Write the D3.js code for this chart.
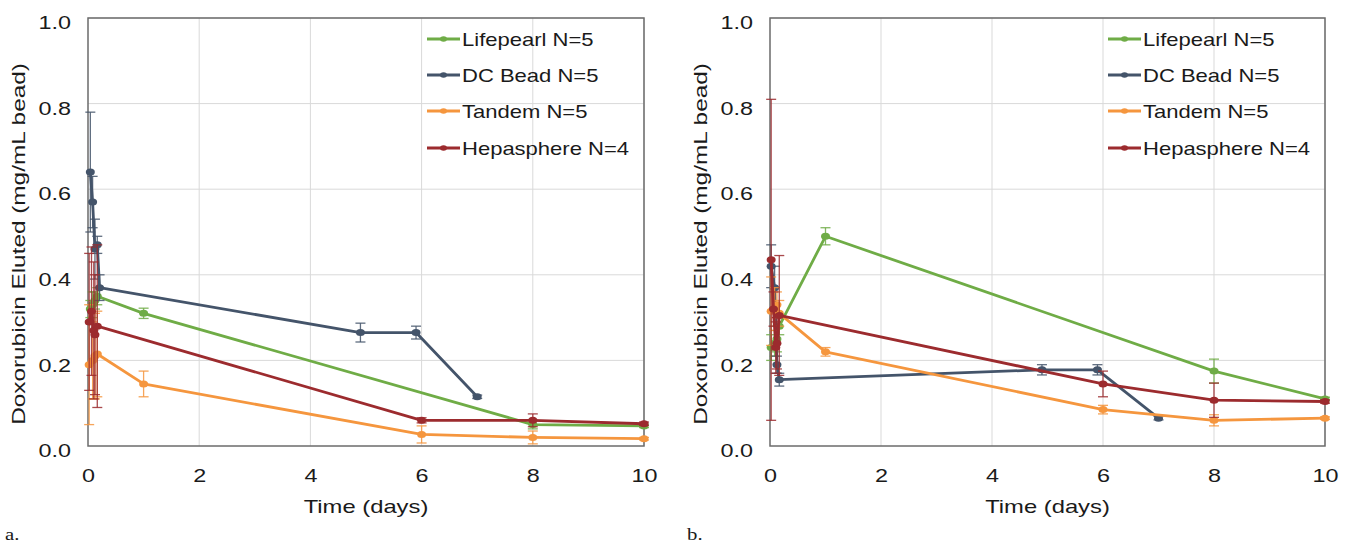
<!DOCTYPE html>
<html><head><meta charset="utf-8">
<script src="https://cdn.jsdelivr.net/npm/d3@7"></script>
<style>
html,body{margin:0;padding:0;background:#fff;}
svg text{font-family:"Liberation Sans",Arial,sans-serif;fill:#1a1a1a;}
</style></head>
<body><svg id="chart" width="1349" height="545"></svg>
<script>
// ---------- data ----------
const seriesNames = ["Lifepearl N=5", "DC Bead N=5", "Tandem N=5", "Hepasphere N=4"];
const seriesColors = ["#6fac46", "#44546a", "#f5963e", "#9c2b2e"];
const xTicks = [0, 2, 4, 6, 8, 10];
const yTicks = [0.0, 0.2, 0.4, 0.6, 0.8, 1.0];
const panelLabels = ["a.", "b."];

// Panel a
const aLifepearlT = [0.042, 0.083, 0.125, 0.167, 1, 8, 10];
const aLifepearlV = [0.32, 0.33, 0.34, 0.35, 0.31, 0.05, 0.047];
const aLifepearlE = [0.02, 0.03, 0.02, 0.02, 0.012, 0.01, 0.004];
const aDCBeadT = [0.042, 0.083, 0.125, 0.167, 0.208, 4.9, 5.9, 7];
const aDCBeadV = [0.64, 0.57, 0.46, 0.47, 0.37, 0.265, 0.265, 0.115];
const aDCBeadE = [0.14, 0.06, 0.07, 0.02, 0.03, 0.022, 0.015, 0.004];
const aTandemT = [0.021, 0.083, 0.125, 0.167, 1, 6, 8, 10];
const aTandemV = [0.19, 0.2, 0.21, 0.215, 0.145, 0.027, 0.02, 0.017];
const aTandemE = [0.14, 0.09, 0.1, 0.1, 0.03, 0.02, 0.015, 0.003];
const aHepaT = [0.021, 0.063, 0.104, 0.125, 0.167, 6, 8, 10];
const aHepaV = [0.29, 0.315, 0.27, 0.26, 0.28, 0.06, 0.06, 0.052];
const aHepaE = [0.16, 0.15, 0.16, 0.14, 0.19, 0.006, 0.015, 0.004];

// Panel b
const bLifepearlT = [0.021, 0.083, 0.125, 0.167, 1, 8, 10];
const bLifepearlV = [0.23, 0.24, 0.25, 0.28, 0.49, 0.175, 0.11];
const bLifepearlE = [0.03, 0.03, 0.03, 0.02, 0.02, 0.028, 0.004];
const bDCBeadT = [0.021, 0.083, 0.125, 0.167, 4.9, 5.9, 7];
const bDCBeadV = [0.42, 0.37, 0.19, 0.155, 0.178, 0.178, 0.065];
const bDCBeadE = [0.05, 0.05, 0.02, 0.015, 0.012, 0.012, 0.004];
const bTandemT = [0.021, 0.083, 0.125, 0.167, 1, 6, 8, 10];
const bTandemV = [0.315, 0.32, 0.33, 0.31, 0.22, 0.085, 0.06, 0.065];
const bTandemE = [0.08, 0.05, 0.03, 0.03, 0.01, 0.01, 0.013, 0.003];
const bHepaT = [0.021, 0.063, 0.104, 0.125, 0.167, 6, 8, 10];
const bHepaV = [0.435, 0.32, 0.23, 0.24, 0.305, 0.145, 0.107, 0.104];
const bHepaE = [0.375, 0.04, 0.06, 0.06, 0.14, 0.03, 0.04, 0.004];

// ---------- build ----------
const zip = (t, v, e) => t.map((d, i) => ({t: d, v: v[i], e: e[i]}));
const panels = [
  {left: 88, right: 644, label: panelLabels[0], series: [
    zip(aLifepearlT, aLifepearlV, aLifepearlE), zip(aDCBeadT, aDCBeadV, aDCBeadE),
    zip(aTandemT, aTandemV, aTandemE), zip(aHepaT, aHepaV, aHepaE)]},
  {left: 770, right: 1325, label: panelLabels[1], series: [
    zip(bLifepearlT, bLifepearlV, bLifepearlE), zip(bDCBeadT, bDCBeadV, bDCBeadE),
    zip(bTandemT, bTandemV, bTandemE), zip(bHepaT, bHepaV, bHepaE)]}
];
const TOP = 18, BOTTOM = 446;
const svg = d3.select("#chart");

function stretchText(g, x, y, str, anchor, rotate, fs, sx) {
  return g.append("text")
    .attr("transform", `translate(${x},${y})${rotate ? " rotate(-90)" : ""} scale(${sx},1)`)
    .attr("text-anchor", anchor).style("font-size", fs + "px").text(str);
}

panels.forEach((p, pi) => {
  const x = d3.scaleLinear().domain([0, 10]).range([p.left, p.right]);
  const y = d3.scaleLinear().domain([0, 1]).range([BOTTOM, TOP]);
  const g = svg.append("g");

  // grid
  g.append("g").selectAll("line").data(yTicks.slice(1)).join("line")
    .attr("x1", p.left).attr("x2", p.right).attr("y1", d => y(d)).attr("y2", d => y(d))
    .attr("stroke", "#d9d9d9").attr("stroke-width", 1);
  g.append("g").selectAll("line").data(xTicks.slice(1)).join("line")
    .attr("y1", TOP).attr("y2", BOTTOM).attr("x1", d => x(d)).attr("x2", d => x(d))
    .attr("stroke", "#d9d9d9").attr("stroke-width", 1);

  // axes
  const ax = g.append("g").attr("transform", `translate(0,${BOTTOM})`)
    .call(d3.axisBottom(x).tickValues(xTicks).tickSize(0).tickFormat(d3.format("d")));
  ax.select(".domain").remove();
  ax.selectAll("text").attr("y", 0).attr("dy", 0)
    .attr("transform", `translate(0,36) scale(1.3,1)`).style("font-size", "18px")
    .attr("fill", "#1a1a1a").style("font-family", "Liberation Sans, Arial, sans-serif");
  const ay = g.append("g").attr("transform", `translate(${p.left},0)`)
    .call(d3.axisLeft(y).tickValues(yTicks).tickSize(0).tickFormat(d3.format(".1f")));
  ay.select(".domain").remove();
  ay.selectAll("text").attr("x", 0)
    .attr("transform", `translate(-17,5) scale(1.3,1)`).style("font-size", "18px")
    .attr("fill", "#1a1a1a").style("font-family", "Liberation Sans, Arial, sans-serif");

  // box
  g.append("rect").attr("x", p.left).attr("y", TOP).attr("width", p.right - p.left)
    .attr("height", BOTTOM - TOP).attr("fill", "none").attr("stroke", "#6b6b6b").attr("stroke-width", 1.5);

  // titles
  stretchText(g, (p.left + p.right) / 2, 513, "Time (days)", "middle", false, 18.3, 1.3);
  stretchText(g, p.left - 63, (TOP + BOTTOM) / 2 + 12, "Doxorubicin Eluted (mg/mL bead)", "middle", true, 18.6, 1.31);
  g.append("text").attr("transform", `translate(${p.left - 83},540) scale(1.3,1)`)
    .style("font-family", "Liberation Serif, Times New Roman, serif").style("font-size", "16px")
    .text(p.label);

  // series
  const line = d3.line().x(d => x(d.t)).y(d => y(d.v)).curve(d3.curveLinear);
  p.series.forEach((data, si) => {
    const col = seriesColors[si];
    const sg = g.append("g");
    // error bars
    sg.selectAll("g.eb").data(data).join("g").attr("class", "eb").each(function(d) {
      const e = d3.select(this);
      const cx = x(d.t);
      e.append("line").attr("x1", cx).attr("x2", cx).attr("y1", y(d.v - d.e)).attr("y2", y(d.v + d.e))
        .attr("stroke", col).attr("stroke-width", 1.3).attr("opacity", 0.85);
      [d.v - d.e, d.v + d.e].forEach(v => e.append("line").attr("x1", cx - 5).attr("x2", cx + 5)
        .attr("y1", y(v)).attr("y2", y(v)).attr("stroke", col).attr("stroke-width", 1.3).attr("opacity", 0.85));
    });
    sg.append("path").datum(data).attr("d", line).attr("fill", "none")
      .attr("stroke", col).attr("stroke-width", 2.8).attr("stroke-linejoin", "round");
    sg.selectAll("ellipse").data(data).join("ellipse")
      .attr("cx", d => x(d.t)).attr("cy", d => y(d.v)).attr("rx", 4.5).attr("ry", 3.5).attr("fill", col);
  });

  // legend
  const lx = p.right - 217, ly = [39, 75, 111, 148];
  seriesNames.forEach((name, si) => {
    const col = seriesColors[si];
    g.append("line").attr("x1", lx).attr("x2", lx + 33).attr("y1", ly[si]).attr("y2", ly[si])
      .attr("stroke", col).attr("stroke-width", 2.8);
    g.append("ellipse").attr("cx", lx + 16.5).attr("cy", ly[si]).attr("rx", 3.5).attr("ry", 2.8).attr("fill", col);
    stretchText(g, lx + 35, ly[si] + 7, name, "start", false, 18.5, 1.19);
  });
});
</script></body></html>
